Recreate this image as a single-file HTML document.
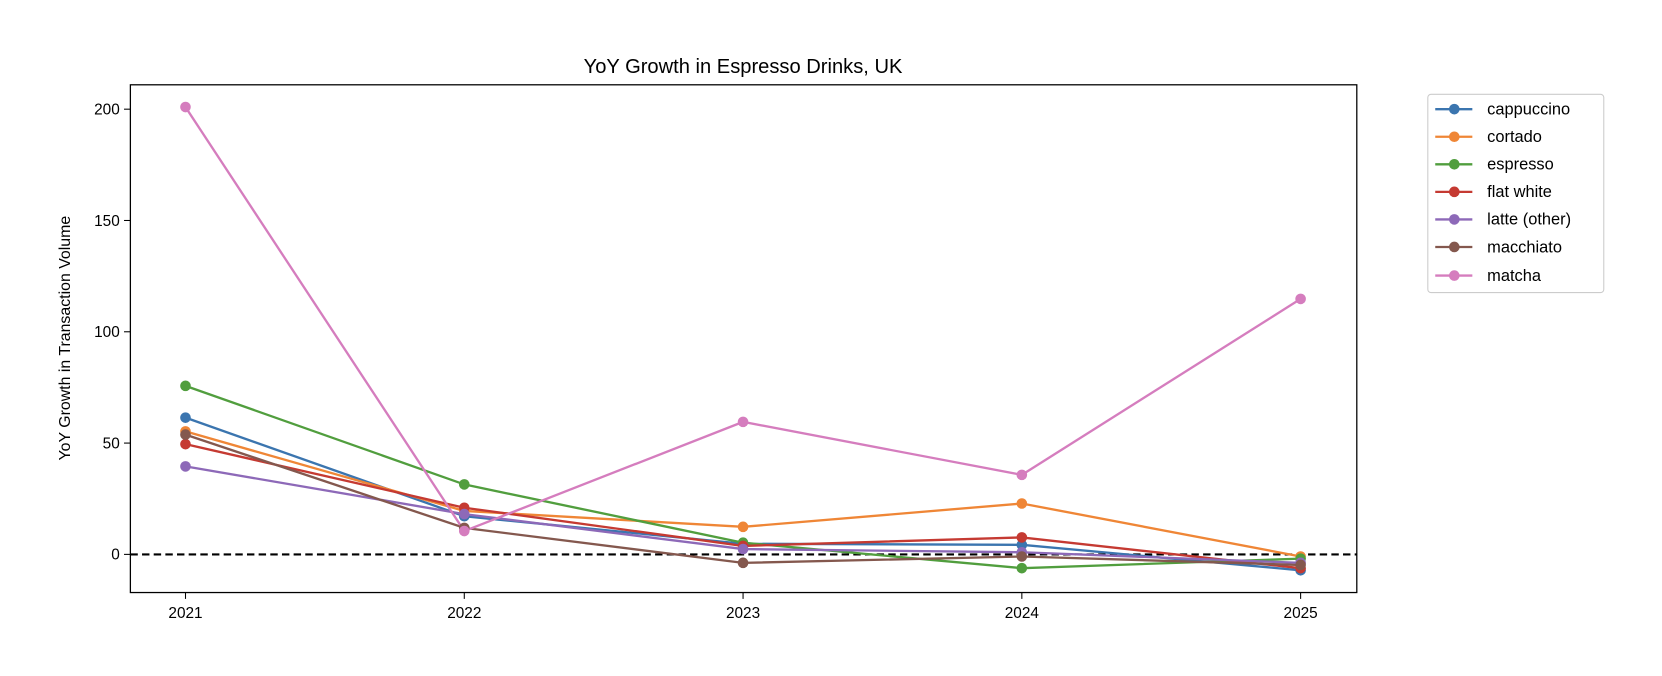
<!DOCTYPE html>
<html><head><meta charset="utf-8"><style>body{margin:0;background:#fff}svg{display:block;font-family:"Liberation Sans","DejaVu Sans",sans-serif}</style></head>
<body>
<svg width="1662" height="676" xmlns="http://www.w3.org/2000/svg">
<rect width="1662" height="676" fill="#fff"/>
<g transform="scale(1.06)">
<text x="701" y="69" font-size="19" text-anchor="middle">YoY Growth in Espresso Drinks, UK</text>
<rect x="123" y="80" width="1157" height="479" fill="none" stroke="#000" stroke-width="1.2"/>
<g font-size="14.5" text-anchor="middle">
<g stroke="#000"><line x1="175" y1="559" x2="175" y2="565"/><line x1="438" y1="559" x2="438" y2="565"/><line x1="701" y1="559" x2="701" y2="565"/><line x1="964" y1="559" x2="964" y2="565"/><line x1="1227" y1="559" x2="1227" y2="565"/></g>
<text x="175" y="583">2021</text><text x="438" y="583">2022</text><text x="701" y="583">2023</text><text x="964" y="583">2024</text><text x="1227" y="583">2025</text>
</g>
<g font-size="14.5" text-anchor="end">
<g stroke="#000"><line x1="117" y1="103" x2="123" y2="103"/><line x1="117" y1="208" x2="123" y2="208"/><line x1="117" y1="313" x2="123" y2="313"/><line x1="117" y1="418" x2="123" y2="418"/><line x1="117" y1="523" x2="123" y2="523"/></g>
<text x="113" y="108">200</text><text x="113" y="213">150</text><text x="113" y="318">100</text><text x="113" y="423">50</text><text x="113" y="528">0</text>
</g>
<text transform="translate(66,319) rotate(-90)" font-size="15" text-anchor="middle">YoY Growth in Transaction Volume</text>
<line x1="123" y1="523" x2="1280" y2="523" stroke="#000" stroke-width="2" stroke-dasharray="7,4"/>
<g stroke-width="2.2" fill="none">
<polyline stroke="#3b75af" points="175,394 438,487 701,513 964,514 1227,538"/>
<polyline stroke="#ef8636" points="175,407 438,482 701,497 964,475 1227,525"/>
<polyline stroke="#519e3e" points="175,364 438,457 701,512 964,536 1227,527"/>
<polyline stroke="#c53a32" points="175,419 438,479 701,515 964,507 1227,536"/>
<polyline stroke="#8d69b8" points="175,440 438,485 701,518 964,521 1227,531"/>
<polyline stroke="#84584e" points="175,410 438,498 701,531 964,525 1227,533"/>
<polyline stroke="#d57dbe" points="175,101 438,501 701,398 964,448 1227,282"/>
</g>
<g stroke="none">
<g fill="#3b75af"><circle cx="175" cy="394" r="5"/><circle cx="438" cy="487" r="5"/><circle cx="701" cy="513" r="5"/><circle cx="964" cy="514" r="5"/><circle cx="1227" cy="538" r="5"/></g>
<g fill="#ef8636"><circle cx="175" cy="407" r="5"/><circle cx="438" cy="482" r="5"/><circle cx="701" cy="497" r="5"/><circle cx="964" cy="475" r="5"/><circle cx="1227" cy="525" r="5"/></g>
<g fill="#519e3e"><circle cx="175" cy="364" r="5"/><circle cx="438" cy="457" r="5"/><circle cx="701" cy="512" r="5"/><circle cx="964" cy="536" r="5"/><circle cx="1227" cy="527" r="5"/></g>
<g fill="#c53a32"><circle cx="175" cy="419" r="5"/><circle cx="438" cy="479" r="5"/><circle cx="701" cy="515" r="5"/><circle cx="964" cy="507" r="5"/><circle cx="1227" cy="536" r="5"/></g>
<g fill="#8d69b8"><circle cx="175" cy="440" r="5"/><circle cx="438" cy="485" r="5"/><circle cx="701" cy="518" r="5"/><circle cx="964" cy="521" r="5"/><circle cx="1227" cy="531" r="5"/></g>
<g fill="#84584e"><circle cx="175" cy="410" r="5"/><circle cx="438" cy="498" r="5"/><circle cx="701" cy="531" r="5"/><circle cx="964" cy="525" r="5"/><circle cx="1227" cy="533" r="5"/></g>
<g fill="#d57dbe"><circle cx="175" cy="101" r="5"/><circle cx="438" cy="501" r="5"/><circle cx="701" cy="398" r="5"/><circle cx="964" cy="448" r="5"/><circle cx="1227" cy="282" r="5"/></g>
</g>
<rect x="1347" y="89" width="166" height="187" rx="3" fill="#fff" stroke="#ccc"/>
<g font-size="15.5">
<g stroke-width="2.2"><line x1="1354" y1="103" x2="1389" y2="103" stroke="#3b75af"/><line x1="1354" y1="129" x2="1389" y2="129" stroke="#ef8636"/><line x1="1354" y1="155" x2="1389" y2="155" stroke="#519e3e"/><line x1="1354" y1="181" x2="1389" y2="181" stroke="#c53a32"/><line x1="1354" y1="207" x2="1389" y2="207" stroke="#8d69b8"/><line x1="1354" y1="233" x2="1389" y2="233" stroke="#84584e"/><line x1="1354" y1="260" x2="1389" y2="260" stroke="#d57dbe"/></g>
<circle cx="1372" cy="103" r="5" fill="#3b75af"/><circle cx="1372" cy="129" r="5" fill="#ef8636"/><circle cx="1372" cy="155" r="5" fill="#519e3e"/><circle cx="1372" cy="181" r="5" fill="#c53a32"/><circle cx="1372" cy="207" r="5" fill="#8d69b8"/><circle cx="1372" cy="233" r="5" fill="#84584e"/><circle cx="1372" cy="260" r="5" fill="#d57dbe"/>
<text x="1403" y="108">cappuccino</text><text x="1403" y="134">cortado</text><text x="1403" y="160">espresso</text><text x="1403" y="186">flat white</text><text x="1403" y="212">latte (other)</text><text x="1403" y="238">macchiato</text><text x="1403" y="265">matcha</text>
</g>
</g>
</svg>
</body></html>
